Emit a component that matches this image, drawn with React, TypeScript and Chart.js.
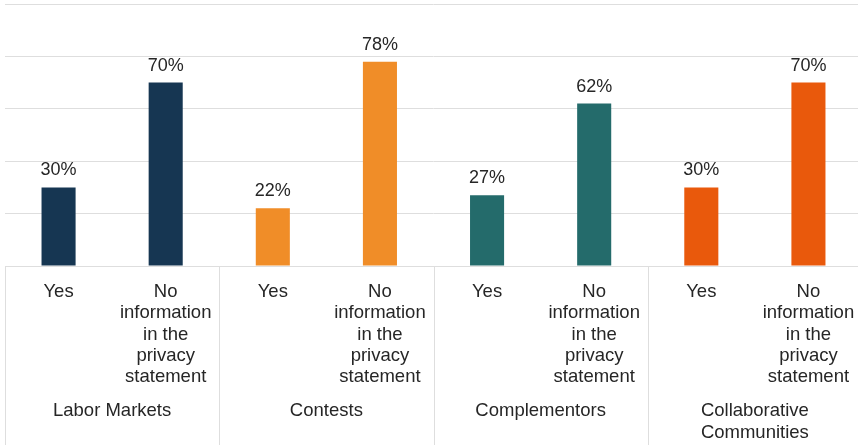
import React, { useEffect, useRef } from "react";
import { Chart, registerables } from "chart.js";

Chart.register(...registerables);

const subCategories: string[][] = [
  ["Yes"],
  ["No", "information", "in the", "privacy", "statement"],
  ["Yes"],
  ["No", "information", "in the", "privacy", "statement"],
  ["Yes"],
  ["No", "information", "in the", "privacy", "statement"],
  ["Yes"],
  ["No", "information", "in the", "privacy", "statement"],
];

const groups: (string | string[])[] = [
  "Labor Markets",
  "Contests",
  "Complementors",
  ["Collaborative", "Communities"],
];

const values: number[] = [30, 70, 22, 78, 27, 62, 30, 70];

const valueLabels: string[] = ["30%", "70%", "22%", "78%", "27%", "62%", "30%", "70%"];

const barColors: string[] = [
  "#163652",
  "#163652",
  "#f08d28",
  "#f08d28",
  "#246b6b",
  "#246b6b",
  "#e9590c",
  "#e9590c",
];

const yTicks: number[] = [0, 20, 40, 60, 80, 100];

const FONT = "'Liberation Sans', Arial, sans-serif";
const TEXT = "#262626";
const GRID = "#dedede";

const labelsPlugin = {
  id: "valueLabels",
  afterDatasetsDraw(chart: any) {
    const ctx = chart.ctx;
    const meta = chart.getDatasetMeta(0);
    ctx.save();
    ctx.font = `18px ${FONT}`;
    ctx.fillStyle = TEXT;
    ctx.textAlign = "center";
    ctx.textBaseline = "alphabetic";
    meta.data.forEach((bar: any, i: number) => {
      ctx.fillText(valueLabels[i], bar.x, bar.y - 12);
    });
    ctx.restore();
  },
};

const separatorPlugin = {
  id: "groupSeparators",
  afterDraw(chart: any) {
    const ctx = chart.ctx;
    const xs = chart.scales.x;
    const half = (xs.getPixelForValue(1) - xs.getPixelForValue(0)) / 2;
    const top = chart.chartArea.bottom;
    const bottom = chart.height;
    ctx.save();
    ctx.strokeStyle = GRID;
    ctx.lineWidth = 1;
    for (let g = 0; g < groups.length; g++) {
      const px = Math.round(xs.getPixelForValue(g * 2) - half) + 0.5;
      ctx.beginPath();
      ctx.moveTo(px, top);
      ctx.lineTo(px, bottom);
      ctx.stroke();
    }
    ctx.restore();
  },
};

export default function App() {
  const ref = useRef<HTMLCanvasElement | null>(null);

  useEffect(() => {
    if (!ref.current) return;
    const chart = new Chart(ref.current, {
      type: "bar",
      data: {
        labels: subCategories,
        datasets: [
          {
            data: values,
            backgroundColor: barColors,
            borderWidth: 0,
            categoryPercentage: 1,
            barPercentage: 0.318,
          },
        ],
      },
      options: {
        responsive: false,
        animation: false,
        layout: { padding: { left: 5, right: 0, top: 4, bottom: 0 } },
        plugins: {
          legend: { display: false },
          tooltip: { enabled: false },
          title: { display: false },
        },
        scales: {
          x: {
            type: "category",
            position: "bottom",
            offset: true,
            grid: { display: false, drawTicks: false },
            border: { display: true, color: GRID, width: 1 },
            ticks: {
              autoSkip: false,
              maxRotation: 0,
              minRotation: 0,
              padding: 15,
              color: TEXT,
              font: { family: FONT, size: 18.5, lineHeight: "21.4px" },
            },
            afterFit(scale: any) {
              scale.paddingLeft = 0;
              scale.paddingRight = 0;
              scale.height = 130;
            },
          },
          x2: {
            type: "category",
            position: "bottom",
            labels: groups as any,
            offset: true,
            grid: { display: false, drawTicks: false },
            border: { display: false },
            ticks: {
              autoSkip: false,
              maxRotation: 0,
              minRotation: 0,
              padding: 4,
              color: TEXT,
              font: { family: FONT, size: 18.5, lineHeight: "22.2px" },
            },
            afterFit(scale: any) {
              scale.paddingLeft = 0;
              scale.paddingRight = 0;
              scale.height = 49;
            },
          },
          y: {
            min: 0,
            max: 100,
            afterBuildTicks(scale: any) {
              scale.ticks = yTicks.map((v) => ({ value: v }));
            },
            grid: { color: GRID, drawTicks: false },
            border: { display: false },
            ticks: { display: false },
          },
        },
      },
      plugins: [labelsPlugin, separatorPlugin],
    });
    return () => chart.destroy();
  }, []);

  return (
    <div style={{ position: "fixed", left: 0, top: 0, width: 858, height: 445, background: "#fff", overflow: "hidden" }}>
      <canvas ref={ref} width={862} height={445} style={{ display: "block", width: 862, height: 445 }} />
    </div>
  );
}
